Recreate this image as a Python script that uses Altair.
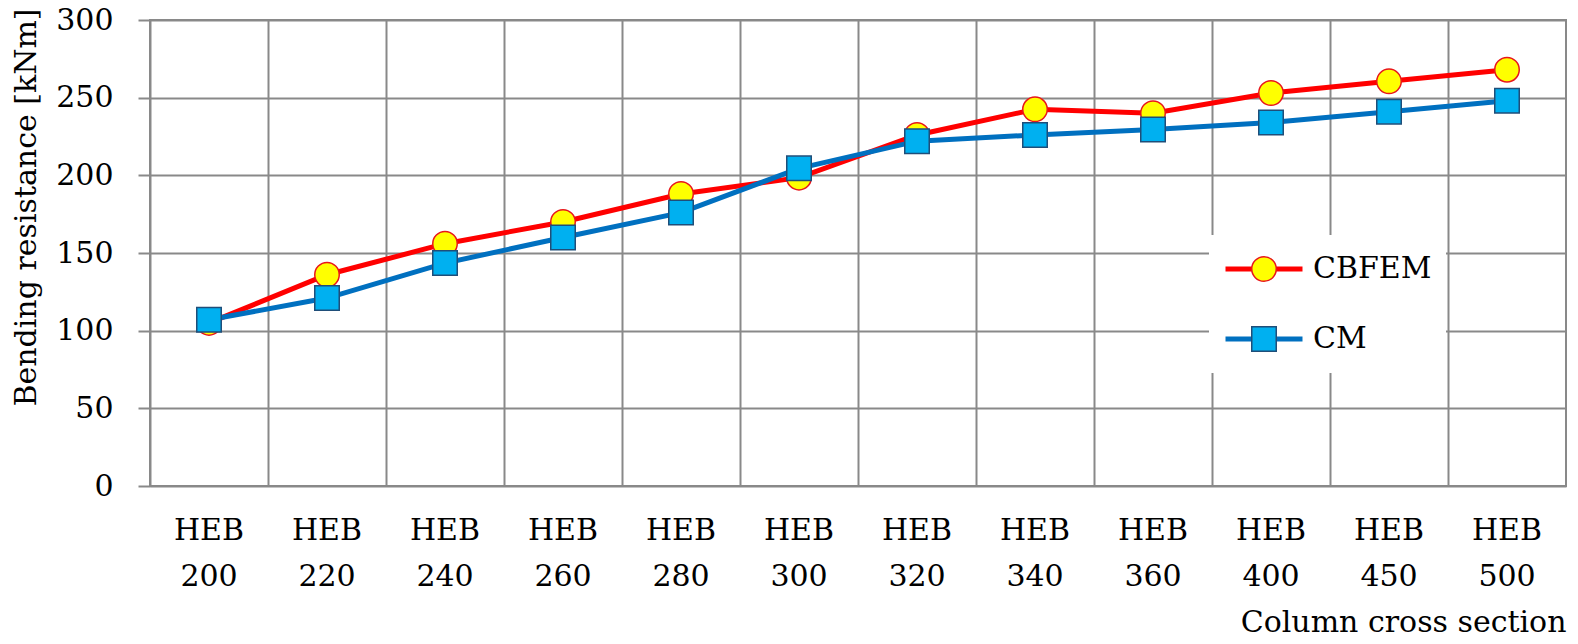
import altair as alt
import pandas as pd

# ---- data ----
sections = ["HEB 200", "HEB 220", "HEB 240", "HEB 260", "HEB 280", "HEB 300",
            "HEB 320", "HEB 340", "HEB 360", "HEB 400", "HEB 450", "HEB 500"]
cbfem = [105, 136, 156, 170, 188, 198.5, 226, 242.5, 240, 253, 260.5, 268]
cm = [107, 121, 143.5, 160, 176, 204.5, 222, 226, 229.5, 234, 241, 248]
series_names = ["CBFEM", "CM"]
y_ticks = [0, 50, 100, 150, 200, 250, 300]

rows = []
for name, vals in zip(series_names, [cbfem, cm]):
    for s, v in zip(sections, vals):
        rows.append({"section": s, "value": v, "series": name, "series_pt": name})
df = pd.DataFrame(rows)

FONT = "DejaVu Serif"
FS = 30
GRID = "#898989"
W, H = 1416, 466

x_enc = alt.X(
    "section:N", sort=sections,
    scale=alt.Scale(type="band", paddingInner=0, paddingOuter=0),
    axis=alt.Axis(
        title="Column cross section", bandPosition=0, grid=True, gridColor=GRID,
        gridWidth=2, ticks=False, domain=False, labelAngle=0,
        labelExpr="split(datum.label, ' ')", labelPadding=44,
        labelBaseline="middle", labelLineHeight=46, labelFontSize=FS, labelFont=FONT,
        labelColor="black", titleFont=FONT, titleFontSize=FS, titleFontWeight="normal",
        titleColor="black", titleX=W, titleY=136, titleAlign="right",
        titleBaseline="middle"),
)
y_enc = alt.Y(
    "value:Q", scale=alt.Scale(domain=[0, 300], nice=False),
    axis=alt.Axis(
        values=y_ticks, title="Bending resistance [kNm]", grid=True, gridColor=GRID,
        gridWidth=2, tickColor=GRID, tickWidth=2, tickSize=12, domain=False,
        labelFontSize=FS, labelFont=FONT, labelColor="black", labelPadding=25,
        titleFont=FONT, titleFontSize=FS, titleFontWeight="normal", titleColor="black",
        titleAngle=270, titleX=-124, titleY=187, titleAlign="center",
        titleBaseline="middle"),
)

line_legend = alt.Legend(
    title=None, orient="none", legendX=1059, legendY=215,
    symbolType="M-1,0L-0.3,0M0.3,0L1,0", symbolSize=5929, symbolStrokeWidth=5,
    clipHeight=40, rowPadding=30, padding=14, fillColor="white",
    labelFont=FONT, labelFontSize=FS, labelOffset=8, labelColor="black",
    labelBaseline="middle")

point_legend = alt.Legend(
    title=None, orient="none", legendX=1099, legendY=229,
    symbolSize=600, symbolStrokeWidth=1.5, symbolOpacity=1,
    clipHeight=40, rowPadding=30, padding=0,
    labelFont=FONT, labelFontSize=FS, labelOpacity=0, labelBaseline="middle")

lines = alt.Chart(df).mark_line(strokeWidth=5).encode(
    x=x_enc, y=y_enc,
    color=alt.Color("series:N", scale=alt.Scale(range=["#FF0000", "#0070C0"]),
                    legend=line_legend),
)

points = alt.Chart(df).mark_point(filled=True, size=600, strokeWidth=1.5, opacity=1).encode(
    x=x_enc, y=y_enc,
    fill=alt.Fill("series_pt:N", scale=alt.Scale(range=["#FFFF00", "#00B0F0"]),
                  legend=point_legend),
    stroke=alt.Stroke("series_pt:N", scale=alt.Scale(range=["#E8161B", "#1F4E79"]),
                      legend=point_legend),
    shape=alt.Shape("series_pt:N", scale=alt.Scale(range=["circle", "square"]),
                    legend=point_legend),
)

chart = alt.layer(lines, points).properties(
    width=W, height=H,
    padding={"left": 142, "top": 12, "right": 4, "bottom": 150},
    autosize=alt.AutoSizeParams(type="none"),
).configure_view(stroke=GRID, strokeWidth=2)

chart.save("out.html", embed_options={"renderer": "svg", "actions": False})
